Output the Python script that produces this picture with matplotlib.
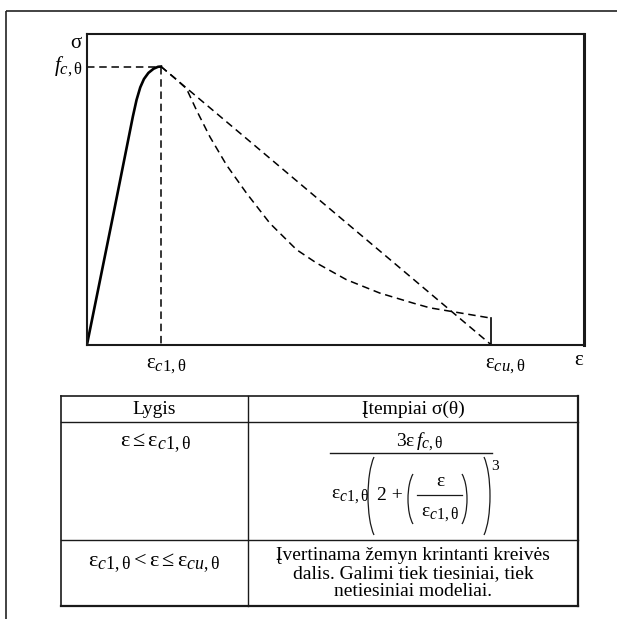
import matplotlib
matplotlib.use('Agg')
import numpy as np
import matplotlib.pyplot as plt
from matplotlib.patches import Arc
import matplotlib._mathtext as _mt

_mt.SHRINK_FACTOR = 0.8

plt.rcParams['font.family'] = ['Liberation Serif', 'DejaVu Serif']
plt.rcParams['mathtext.fontset'] = 'custom'
plt.rcParams['mathtext.rm'] = 'Liberation Serif'
plt.rcParams['mathtext.it'] = 'Liberation Serif:italic'
plt.rcParams['mathtext.bf'] = 'Liberation Serif:bold'
plt.rcParams['lines.scale_dashes'] = False

# ---------------- data (normalised: eps_c1 = 1, f_c = 1) ----------------
eps_c1 = 1.0
eps_cu = 5.46
f_c = 1.0
sigma_cu_end = 0.095
x_max = 6.72
y_max = 1.117

rise_eps = [0.0, 0.35, 0.62, 0.67, 0.72, 0.77, 0.83, 0.90, 0.96, 1.0]
rise_sig = [0.0, 0.46, 0.82, 0.88, 0.925, 0.955, 0.977, 0.992, 0.999, 1.0]

lin_eps = [eps_c1, eps_cu]
lin_sig = [f_c, 0.0]

curve_eps = [1.0, 1.18, 1.346, 1.482, 1.662, 1.888, 2.158, 2.473, 2.834,
             3.104, 3.509, 3.959, 4.409, 4.635, 5.46]
curve_sig = [1.0, 0.96, 0.92, 0.842, 0.747, 0.645, 0.544, 0.436, 0.341,
             0.293, 0.233, 0.185, 0.149, 0.132, 0.095]

lbl_c1 = r'$\mathrm{ε}_{c\mathrm{1,θ}}$'
lbl_cu = r'$\mathrm{ε}_{cu\mathrm{,θ}}$'
lbl_fc = r'$f_{c\mathrm{,θ}}$'

table_header = ['Lygis', 'Įtempiai σ(θ)']
row1_left = r'$\mathrm{ε}\leq\mathrm{ε}_{c\mathrm{1,θ}}$'
num_txt = r'$3\mathrm{ε}\,f_{c\mathrm{,θ}}$'
den_prefix = r'$\mathrm{ε}_{c\mathrm{1,θ}}$'
den_two = '2 +'
inner_num = 'ε'
inner_den = r'$\mathrm{ε}_{c\mathrm{1,θ}}$'
power = '3'
row2_left = r'$\mathrm{ε}_{c\mathrm{1,θ}}<\mathrm{ε}\leq\mathrm{ε}_{cu\mathrm{,θ}}$'
row2_right = ['Įvertinama žemyn krintanti kreivės',
              'dalis. Galimi tiek tiesiniai, tiek',
              'netiesiniai modeliai.']

# ---------------- figure ----------------
W, H = 617, 619
fig = plt.figure(figsize=(W / 100, H / 100), dpi=100)

ov = fig.add_axes([0, 0, 1, 1])
ov.set_xlim(0, W)
ov.set_ylim(H, 0)
ov.axis('off')

# outer frame (left + top)
ov.plot([6, 6], [H + 5, 11], color='#222222', lw=1.2, solid_capstyle='butt')
ov.plot([6, W + 5], [11, 11], color='#222222', lw=1.2, solid_capstyle='butt')

# ---------------- chart axes ----------------
ax_l, ax_r, ax_t, ax_b = 87, 584, 34, 344.5
ax = fig.add_axes([ax_l / W, (H - ax_b) / H, (ax_r - ax_l) / W, (ax_b - ax_t) / H])
ax.set_xlim(0, x_max)
ax.set_ylim(0, y_max)
for s in ['left', 'bottom', 'top']:
    ax.spines[s].set_linewidth(1.5)
    ax.spines[s].set_color('#1a1a1a')
ax.spines['right'].set_linewidth(2.2)
ax.spines['right'].set_color('#1a1a1a')
ax.set_xticks([])
ax.set_yticks([])

dash = (0, (5.4, 3.4))
kw_d = dict(color='black', lw=1.1, linestyle=dash, clip_on=False)

ax.plot(rise_eps, rise_sig, color='black', lw=1.9, solid_joinstyle='round')
ax.plot([0, eps_c1], [f_c, f_c], **kw_d)
ax.plot([eps_c1, eps_c1], [f_c, 0], **kw_d)
ax.plot(lin_eps, lin_sig, **kw_d)
ax.plot(curve_eps, curve_sig, **kw_d)
ax.plot([eps_cu, eps_cu], [0, sigma_cu_end], color='black', lw=1.2)

afs = 15
ax.annotate(lbl_c1, xy=(eps_c1, 0), xytext=(-11, -16.5), textcoords='offset points',
            ha='left', va='baseline', fontsize=afs)
ax.annotate(lbl_cu, xy=(eps_cu, 0), xytext=(-4.5, -16.5), textcoords='offset points',
            ha='left', va='baseline', fontsize=afs)
ax.annotate('ε', xy=(x_max, 0), xytext=(-0.5, -15), textcoords='offset points',
            ha='right', va='baseline', fontsize=afs)
ax.annotate('σ', xy=(0, y_max), xytext=(-4, -10), textcoords='offset points',
            ha='right', va='baseline', fontsize=afs)
ax.annotate(lbl_fc, xy=(0, f_c), xytext=(-3, 0.5), textcoords='offset points',
            ha='right', va='center', fontsize=afs)

# ---------------- table ----------------
tl, tr, tt, tb = 61, 578, 396, 606
col = 248
r1, r2 = 422, 540
lc = '#1a1a1a'
ov.plot([tl, tr], [tt, tt], color=lc, lw=1.2)
ov.plot([tl, tr], [r1, r1], color=lc, lw=1.0)
ov.plot([tl, tr], [r2, r2], color=lc, lw=1.0)
ov.plot([tl, tr], [tb, tb], color=lc, lw=1.6)
ov.plot([tl, tl], [tt, tb], color=lc, lw=1.2)
ov.plot([tr, tr], [tt, tb], color=lc, lw=1.6)
ov.plot([col, col], [tt, tb], color=lc, lw=1.0)

fs = 14
mfs = 16
cl = (tl + col) / 2
cr = (col + tr) / 2
ov.text(cl, 409, table_header[0], ha='center', va='center', fontsize=fs)
ov.text(cr, 409, table_header[1], ha='center', va='center', fontsize=fs)
ov.text(cl + 1, 443, row1_left, ha='center', va='center', fontsize=mfs)
ov.text(cl, 563, row2_left, ha='center', va='center', fontsize=mfs)
for i, line in enumerate(row2_right):
    ov.text(cr, 555 + 18.5 * i, line, ha='center', va='center', fontsize=fs)

# formula, composed piece by piece
ov.text(420, 442, num_txt, ha='center', va='center', fontsize=fs)
ov.plot([330, 492], [453, 453], color=lc, lw=1.0)
ov.text(331, 497, den_prefix, ha='left', va='center', fontsize=fs)
ov.text(377, 496, den_two, ha='left', va='center', fontsize=fs)
ov.text(440, 482, inner_num, ha='center', va='center', fontsize=fs)
ov.plot([417, 462], [495, 495], color=lc, lw=0.9)
ov.text(440, 515, inner_den, ha='center', va='center', fontsize=fs)
ov.text(491, 467, power, ha='left', va='center', fontsize=11)


def paren(x_edge, y_top, y_bot, bulge, side):
    """Thin tall parenthesis as an elliptic arc (parametric span +-60 deg)."""
    t = np.deg2rad(60)
    a = bulge / (1 - np.cos(t))
    b = (y_bot - y_top) / (2 * np.sin(t))
    g = np.rad2deg(np.arctan2(b * np.sin(t), a * np.cos(t)))  # geometric angle
    cy = (y_top + y_bot) / 2
    if side == 'left':
        cx = x_edge + a
        th1, th2 = 180 - g, 180 + g
    else:
        cx = x_edge - a
        th1, th2 = -g, g
    ov.add_patch(Arc((cx, cy), 2 * a, 2 * b, theta1=th1, theta2=th2,
                     color=lc, lw=0.9))


paren(368, 457, 535, 6, 'left')
paren(490, 457, 535, 6, 'right')
paren(408, 474, 524, 5, 'left')
paren(467, 474, 524, 5, 'right')

fig.savefig('out.png', dpi=100)
